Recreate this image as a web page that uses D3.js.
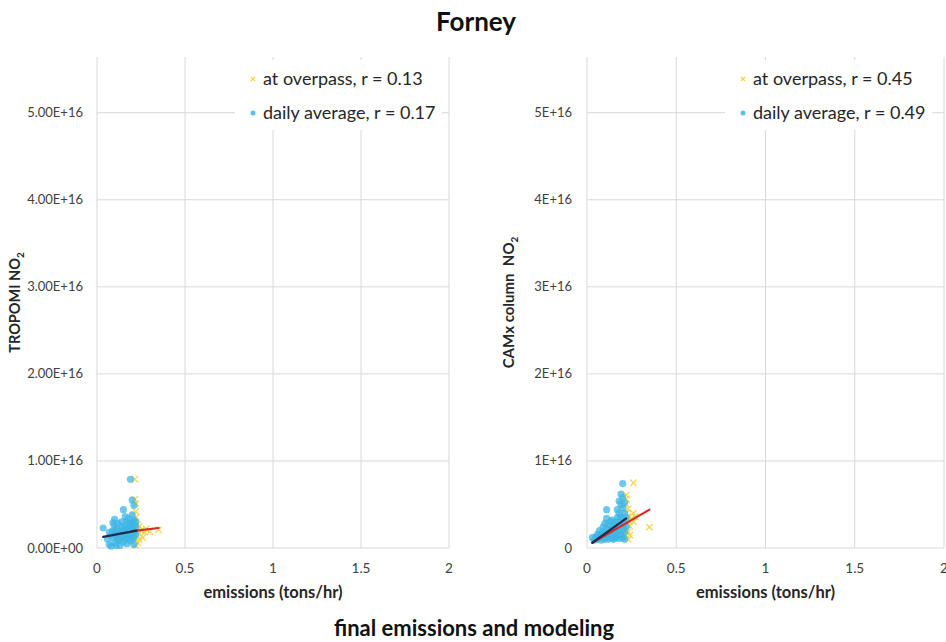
<!DOCTYPE html>
<html>
<head>
<meta charset="utf-8">
<script src="https://cdn.jsdelivr.net/npm/d3@7"></script>
<style>
  body { margin: 0; background: #fff; }
  svg { display: block; font-family: Lato, "Open Sans", sans-serif; }
</style>
</head>
<body>
<svg id="chart" width="946" height="642"></svg>
<script>
// ---- data (x in tons/hr, y in units of 1E15 molec/cm2) ----
var xTicks = [0, 0.5, 1, 1.5, 2];
var yTicks = [0, 1e16, 2e16, 3e16, 4e16, 5e16];
var yTickLabelsLeft = ["0.00E+00", "1.00E+16", "2.00E+16", "3.00E+16", "4.00E+16", "5.00E+16"];
var yTickLabelsRight = ["0", "1E+16", "2E+16", "3E+16", "4E+16", "5E+16"];

var tropomiDaily = [[0.035,2.3],[0.06,1.0],[0.07,0.4],[0.08,1.5],[0.08,0.2],[0.09,2.0],[0.09,1.2],[0.10,3.3],[0.10,2.6],[0.10,1.8],[0.10,0.6],[0.11,1.4],[0.11,2.2],[0.12,0.9],[0.12,2.8],[0.12,1.6],[0.13,2.0],[0.13,1.1],[0.13,0.3],[0.14,2.4],[0.14,1.7],[0.14,3.0],[0.15,4.4],[0.15,2.1],[0.15,1.3],[0.15,0.7],[0.16,3.6],[0.16,2.6],[0.16,1.9],[0.16,1.0],[0.17,2.3],[0.17,1.5],[0.17,3.1],[0.17,0.5],[0.18,2.8],[0.18,1.8],[0.18,1.2],[0.18,3.4],[0.19,7.9],[0.19,2.5],[0.19,2.0],[0.19,1.4],[0.19,0.8],[0.20,5.5],[0.20,3.8],[0.20,2.9],[0.20,2.2],[0.20,1.6],[0.20,1.0],[0.21,4.9],[0.21,3.2],[0.21,2.6],[0.21,1.8],[0.21,1.2],[0.21,0.4],[0.22,2.4],[0.22,1.6],[0.22,3.0],[0.07,1.8],[0.11,0.3],[0.09,2.9]];
var tropomiOverpass = [[0.215,7.9],[0.215,5.6],[0.22,5.1],[0.22,4.2],[0.22,3.5],[0.22,3.0],[0.23,2.7],[0.23,2.2],[0.23,1.8],[0.23,1.4],[0.22,1.0],[0.23,0.6],[0.22,0.3],[0.24,2.5],[0.25,2.0],[0.27,1.8],[0.26,1.2],[0.28,2.2],[0.30,1.9],[0.35,2.1],[0.21,2.0],[0.20,1.5],[0.18,2.5],[0.16,1.2],[0.12,1.5],[0.10,2.0],[0.14,0.8],[0.24,1.0]];

var camxDaily = [[0.03,1.2],[0.04,0.9],[0.05,1.3],[0.06,1.0],[0.06,1.6],[0.07,1.2],[0.07,2.0],[0.08,1.5],[0.08,0.9],[0.09,1.8],[0.09,2.4],[0.09,1.2],[0.10,1.6],[0.10,2.8],[0.10,1.0],[0.11,4.4],[0.11,3.4],[0.11,2.2],[0.11,1.3],[0.12,1.8],[0.12,2.6],[0.12,1.0],[0.13,2.0],[0.13,3.0],[0.13,1.4],[0.14,2.3],[0.14,1.1],[0.14,3.2],[0.15,2.6],[0.15,1.7],[0.15,1.0],[0.16,3.0],[0.16,2.0],[0.16,1.2],[0.17,4.4],[0.17,3.5],[0.17,2.4],[0.17,1.4],[0.18,5.4],[0.18,4.0],[0.18,3.0],[0.18,2.0],[0.18,1.1],[0.19,6.2],[0.19,5.0],[0.19,3.6],[0.19,2.6],[0.19,1.6],[0.20,7.4],[0.20,5.8],[0.20,4.6],[0.20,3.3],[0.20,2.2],[0.20,1.2],[0.21,5.2],[0.21,4.0],[0.21,2.8],[0.21,1.8],[0.21,1.0],[0.22,3.5],[0.22,2.4]];
var camxOverpass = [[0.26,7.5],[0.22,6.1],[0.22,5.6],[0.22,5.0],[0.23,4.5],[0.22,4.0],[0.23,3.6],[0.22,3.1],[0.23,2.7],[0.22,2.2],[0.23,1.8],[0.22,1.4],[0.23,1.0],[0.26,4.0],[0.26,3.0],[0.35,2.4],[0.24,2.5],[0.25,3.4],[0.21,2.0],[0.20,1.5],[0.18,2.8],[0.14,1.8],[0.11,2.7],[0.12,1.2],[0.24,1.5],[0.27,3.6]];

// linear fits: [xStart, xEnd, slope (E15 per ton/hr), intercept (E15)]
var tropomiFitOverpass = [0.20, 0.35, 2.4, 1.46];
var tropomiFitDaily = [0.035, 0.225, 3.84, 1.14];
var camxFitOverpass = [0.03, 0.35, 11.9, 0.24];
var camxFitDaily = [0.03, 0.22, 14.7, 0.16];

var legendLeft = ["at overpass, r = 0.13", "daily average, r = 0.17"];
var legendRight = ["at overpass, r = 0.45", "daily average, r = 0.49"];

var svg = d3.select("#chart");
var blue = "#3db5e6", yellow = "#f3d03e", grid = "#d9d9d9";

/*
 * Draw one scatter panel
 */
drawPanel = function(p) {
    var x = d3.scaleLinear().domain([0, 2]).range([p.left, p.right]);
    var y = d3.scaleLinear().domain([0, 5.64e16]).range([548, 57]);
    var g = svg.append("g");

    // gridlines
    g.selectAll(".vg").data(xTicks).enter().append("line")
        .attr("x1", function(d) { return x(d); }).attr("x2", function(d) { return x(d); })
        .attr("y1", y.range()[1]).attr("y2", y(0))
        .attr("stroke", grid).attr("stroke-width", 1);
    g.selectAll(".hg").data(yTicks).enter().append("line")
        .attr("x1", x(0)).attr("x2", x(2))
        .attr("y1", function(d) { return y(d); }).attr("y2", function(d) { return y(d); })
        .attr("stroke", grid).attr("stroke-width", 1);

    // tick labels
    g.selectAll(".xt").data(xTicks).enter().append("text")
        .attr("x", function(d) { return x(d); }).attr("y", 573)
        .attr("text-anchor", "middle").attr("font-size", 13.5).attr("fill", "#404040")
        .text(function(d) { return d; });
    g.selectAll(".yt").data(yTicks).enter().append("text")
        .attr("x", p.left - p.tickGap).attr("y", function(d) { return y(d) + 4.5; })
        .attr("text-anchor", "end").attr("font-size", 13).attr("fill", "#404040")
        .text(function(d, i) { return p.yLabels[i]; });

    // axis titles
    g.append("text")
        .attr("x", (p.left + p.right) / 2).attr("y", 598)
        .attr("text-anchor", "middle").attr("font-size", 16.5).attr("font-weight", "bold")
        .attr("fill", "#262626").text("emissions (tons/hr)");
    var yt = g.append("text")
        .attr("transform", "translate(" + p.titleX + "," + ((57 + 548) / 2) + ") rotate(-90)")
        .attr("text-anchor", "middle").attr("font-size", p.yTitleSize).attr("font-weight", "bold")
        .attr("fill", "#262626");
    yt.append("tspan").attr("xml:space", "preserve").text(p.yTitle);
    yt.append("tspan").attr("font-size", 10).attr("dy", 4).text("2");

    // legend box covers gridlines
    g.append("rect").attr("x", p.left + 138).attr("y", 60).attr("width", 207).attr("height", 70)
        .attr("fill", "#fff");

    // overpass crosses
    var s = 3.2;
    g.selectAll(".xo").data(p.overpass).enter().append("path")
        .attr("d", function(d) {
            var cx = x(d[0]), cy = y(d[1] * 1e15);
            return "M" + (cx - s) + "," + (cy - s) + "L" + (cx + s) + "," + (cy + s) +
                   "M" + (cx - s) + "," + (cy + s) + "L" + (cx + s) + "," + (cy - s);
        })
        .attr("stroke", yellow).attr("stroke-width", 1.4).attr("fill", "none").attr("opacity", 0.85);

    // daily average dots
    g.selectAll(".dd").data(p.daily).enter().append("circle")
        .attr("cx", function(d) { return x(d[0]); })
        .attr("cy", function(d) { return y(d[1] * 1e15); })
        .attr("r", 3.6).attr("fill", blue).attr("opacity", 0.75);

    // fit lines
    var fitLine = function(f, color) {
        g.append("line")
            .attr("x1", x(f[0])).attr("y1", y((f[3] + f[2] * f[0]) * 1e15))
            .attr("x2", x(f[1])).attr("y2", y((f[3] + f[2] * f[1]) * 1e15))
            .attr("stroke", color).attr("stroke-width", 2.2).attr("stroke-linecap", "round");
    };
    fitLine(p.fitOverpass, "#d42a2f");
    fitLine(p.fitDaily, "#1d2a48");

    // legend
    var lx = p.left + 156;
    var cs = 2.2;
    g.append("path")
        .attr("d", "M" + (lx - cs) + "," + (79 - cs) + "L" + (lx + cs) + "," + (79 + cs) +
                   "M" + (lx - cs) + "," + (79 + cs) + "L" + (lx + cs) + "," + (79 - cs))
        .attr("stroke", yellow).attr("stroke-width", 1.2);
    g.append("circle").attr("cx", lx).attr("cy", 113).attr("r", 2.5).attr("fill", blue).attr("opacity", 0.85);
    g.selectAll(".lg").data(p.legend).enter().append("text")
        .attr("x", lx + 10).attr("y", function(d, i) { return i === 0 ? 85 : 119; })
        .attr("font-size", 18).attr("fill", "#262626")
        .text(function(d) { return d; });
}

drawPanel({ left: 97, right: 449, yLabels: yTickLabelsLeft, tickGap: 14, titleX: 20, yTitleSize: 14.5,
    yTitle: "TROPOMI NO",
    daily: tropomiDaily, overpass: tropomiOverpass,
    fitDaily: tropomiFitDaily, fitOverpass: tropomiFitOverpass, legend: legendLeft });
drawPanel({ left: 587, right: 944, yLabels: yTickLabelsRight, tickGap: 15, titleX: 514, yTitleSize: 15,
    yTitle: "CAMx column  NO",
    daily: camxDaily, overpass: camxOverpass,
    fitDaily: camxFitDaily, fitOverpass: camxFitOverpass, legend: legendRight });

// titles
svg.append("text").attr("x", 476).attr("y", 31).attr("text-anchor", "middle")
    .attr("font-size", 26).attr("font-weight", "bold").attr("fill", "#111").text("Forney");
svg.append("text").attr("x", 474).attr("y", 636).attr("text-anchor", "middle")
    .attr("font-size", 22).attr("font-weight", "bold").attr("fill", "#111").text("final emissions and modeling");
</script>
</body>
</html>
